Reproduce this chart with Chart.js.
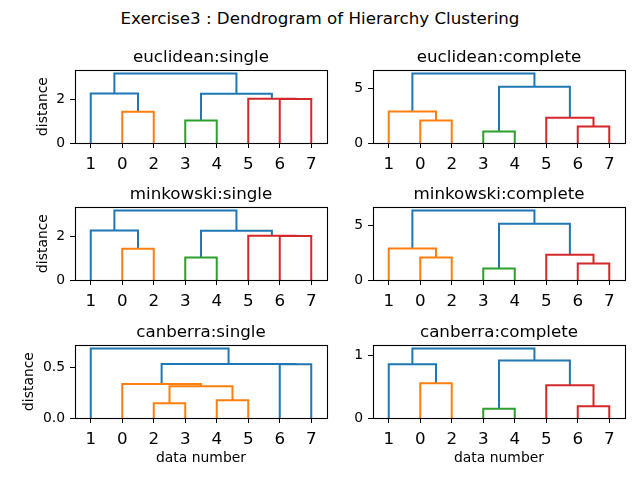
<!DOCTYPE html>
<html><head><meta charset="utf-8">
<script src="https://cdn.jsdelivr.net/npm/chart.js@4.4.1/dist/chart.umd.min.js"></script>
<style>
html,body{margin:0;padding:0;background:#fff;}
body{width:640px;height:480px;position:relative;overflow:hidden;font-family:"DejaVu Sans",sans-serif;}
#suptitle{position:absolute;left:0;top:7px;width:640px;text-align:center;font-size:16.7px;line-height:22px;color:#000;}
canvas{position:absolute;}
</style></head><body>
<div id="suptitle">Exercise3 : Dendrogram of Hierarchy Clustering</div>
<canvas id="c0" width="324" height="153"></canvas>
<canvas id="c1" width="324" height="153"></canvas>
<canvas id="c2" width="324" height="153"></canvas>
<canvas id="c3" width="324" height="153"></canvas>
<canvas id="c4" width="324" height="153"></canvas>
<canvas id="c5" width="324" height="153"></canvas>
<script>
// ---------- data ----------
const leafLabels = ['1','0','2','3','4','5','6','7'];
const leafPositions = [5,15,25,35,45,55,65,75];
const subplotTitles = ['euclidean:single','euclidean:complete','minkowski:single','minkowski:complete','canberra:single','canberra:complete'];

// merges: pairs of child ids (0-7 = leaves in display order, 8+ = earlier merges)
const euclideanSingleMerges  = [[1,2],[3,4],[6,7],[5,10],[0,8],[9,11],[12,13]];
const euclideanSingleHeights = [1.42,1.02,2.0,2.01,2.25,2.24,3.16];
const euclideanSingleColors  = ['C1','C2','C3','C3','C0','C0','C0'];

const euclideanCompleteMerges  = [[1,2],[3,4],[6,7],[5,10],[0,8],[9,11],[12,13]];
const euclideanCompleteHeights = [2.05,1.04,1.5,2.3,2.87,5.12,6.33];
const euclideanCompleteColors  = ['C1','C2','C3','C3','C1','C0','C0'];

const minkowskiSingleMerges  = [[1,2],[3,4],[6,7],[5,10],[0,8],[9,11],[12,13]];
const minkowskiSingleHeights = [1.42,1.02,2.0,2.01,2.25,2.24,3.16];
const minkowskiSingleColors  = ['C1','C2','C3','C3','C0','C0','C0'];

const minkowskiCompleteMerges  = [[1,2],[3,4],[6,7],[5,10],[0,8],[9,11],[12,13]];
const minkowskiCompleteHeights = [2.05,1.04,1.5,2.3,2.87,5.12,6.33];
const minkowskiCompleteColors  = ['C1','C2','C3','C3','C1','C0','C0'];

const canberraSingleMerges  = [[2,3],[4,5],[8,9],[1,10],[6,7],[11,12],[0,13]];
const canberraSingleHeights = [0.147,0.177,0.317,0.34,0.537,0.538,0.693];
const canberraSingleColors  = ['C1','C1','C1','C1','C0','C0','C0'];

const canberraCompleteMerges  = [[1,2],[3,4],[6,7],[5,10],[0,8],[9,11],[12,13]];
const canberraCompleteHeights = [0.553,0.149,0.186,0.521,0.856,0.915,1.106];
const canberraCompleteColors  = ['C1','C2','C3','C3','C0','C0','C0'];

const yTickValues = [[0,2],[0,5],[0,2],[0,5],[0,0.5],[0,1]];
const yTickLabels = [['0','2'],['0','5'],['0','2'],['0','5'],['0.0','0.5'],['0','1']];

const yAxisTitle = 'distance';
const xAxisTitle = 'data number';

// ---------- rendering ----------
const PALETTE = {C0:'#1f77b4', C1:'#ff7f0e', C2:'#2ca02c', C3:'#d62728'};
const FONT = 'DejaVu Sans';
const YW = 62, XH = 50, TITLE_H = 30;
const colLeft = [75, 373];
const rowTop = [70, 207, 345];
const yTitlePad = [22, 22, 8.5];

const subplots = [
  [euclideanSingleMerges, euclideanSingleHeights, euclideanSingleColors],
  [euclideanCompleteMerges, euclideanCompleteHeights, euclideanCompleteColors],
  [minkowskiSingleMerges, minkowskiSingleHeights, minkowskiSingleColors],
  [minkowskiCompleteMerges, minkowskiCompleteHeights, minkowskiCompleteColors],
  [canberraSingleMerges, canberraSingleHeights, canberraSingleColors],
  [canberraCompleteMerges, canberraCompleteHeights, canberraCompleteColors]
];

function buildLinks(merges, heights) {
  const xs = leafPositions.slice();
  const ys = leafPositions.map(() => 0);
  return merges.map(([a, b], i) => {
    const h = heights[i];
    const pts = [{x: xs[a], y: ys[a]}, {x: xs[a], y: h}, {x: xs[b], y: h}, {x: xs[b], y: ys[b]}];
    xs.push((xs[a] + xs[b]) / 2);
    ys.push(h);
    return pts;
  });
}

const boxPlugin = {
  id: 'axesBox',
  afterDatasetsDraw(chart) {
    const {ctx, chartArea: a} = chart;
    ctx.save();
    ctx.strokeStyle = '#000';
    ctx.lineWidth = 1.1;
    ctx.strokeRect(Math.round(a.left) + 0.5, Math.round(a.top) + 0.5, Math.round(a.right - a.left), Math.round(a.bottom - a.top));
    ctx.restore();
  }
};

subplots.forEach(([merges, heights, colors], k) => {
  const col = k % 2, row = Math.floor(k / 2);
  const cv = document.getElementById('c' + k);
  cv.style.left = (colLeft[col] - YW) + 'px';
  cv.style.top = (rowTop[row] - TITLE_H) + 'px';
  const links = buildLinks(merges, heights);
  const ymax = Math.max(...heights) * 1.05;
  new Chart(cv, {
    type: 'scatter',
    data: {
      datasets: links.map((pts, i) => ({
        data: pts, showLine: true, borderColor: PALETTE[colors[i]], backgroundColor: PALETTE[colors[i]],
        borderWidth: 2, pointRadius: 0, pointHoverRadius: 0, fill: false, tension: 0
      }))
    },
    options: {
      responsive: false, animation: false, devicePixelRatio: 1,
      layout: {padding: {left: 0, right: 10, top: 0, bottom: 0}},
      plugins: {
        legend: {display: false}, tooltip: {enabled: false},
        title: {display: true, text: subplotTitles[k], fullSize: false, color: '#000',
          font: {family: FONT, size: 16.7, weight: 'normal', lineHeight: 1.2}, padding: {top: 8, bottom: 2}}
      },
      scales: {
        x: {
          type: 'linear', min: 0, max: 80,
          afterBuildTicks: s => { s.ticks = leafPositions.map(v => ({value: v})); },
          afterFit: s => { s.height = XH; },
          ticks: {autoSkip: false, maxRotation: 0, minRotation: 0, color: '#000', padding: 7,
            font: {family: FONT, size: 16.7}, callback: (v, i) => leafLabels[i]},
          grid: {display: true, drawOnChartArea: false, drawTicks: true, tickLength: 5, tickWidth: 1, color: '#000'},
          border: {display: false},
          title: {display: row === 2, text: xAxisTitle, color: '#000', font: {family: FONT, size: 13.9}, padding: {top: 0, bottom: 1}}
        },
        y: {
          type: 'linear', min: 0, max: ymax,
          afterBuildTicks: s => { s.ticks = yTickValues[k].map(v => ({value: v})); },
          afterFit: s => { s.width = YW; },
          ticks: {color: '#000', padding: 5, font: {family: FONT, size: 13.9}, callback: (v, i) => yTickLabels[k][i]},
          grid: {display: true, drawOnChartArea: false, drawTicks: true, tickLength: 5, tickWidth: 1, color: '#000'},
          border: {display: false},
          title: {display: col === 0, text: yAxisTitle, color: '#000', font: {family: FONT, size: 13.9}, padding: {top: yTitlePad[row], bottom: 0}}
        }
      }
    },
    plugins: [boxPlugin]
  });
});
</script>
</body></html>
